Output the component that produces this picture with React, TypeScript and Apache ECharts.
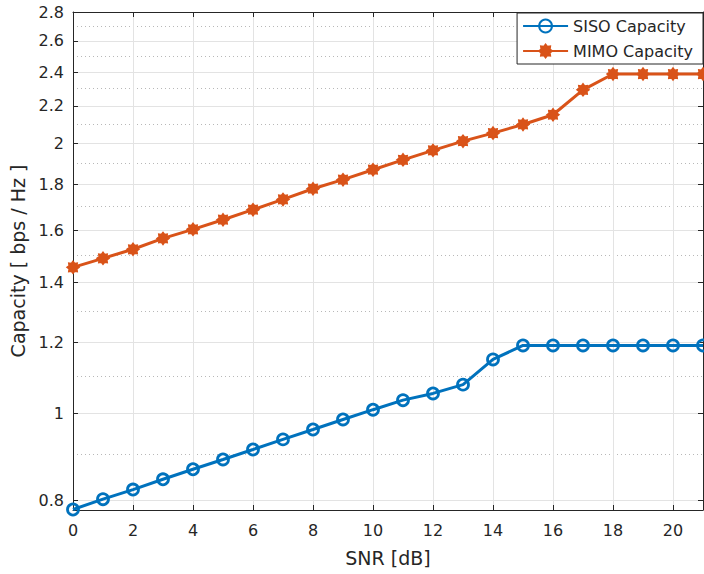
import React, { useEffect, useRef } from "react";
import * as echarts from "echarts";

const snr = [0, 1, 2, 3, 4, 5, 6, 7, 8, 9, 10, 11, 12, 13, 14, 15, 16, 17, 18, 19, 20, 21];
const sisoCapacity = [0.781, 0.802, 0.822, 0.844, 0.866, 0.888, 0.911, 0.935, 0.959, 0.984, 1.009, 1.034, 1.052, 1.076, 1.148, 1.19, 1.19, 1.19, 1.19, 1.19, 1.19, 1.19];
const mimoCapacity = [1.454, 1.488, 1.523, 1.566, 1.603, 1.643, 1.686, 1.731, 1.779, 1.821, 1.868, 1.916, 1.963, 2.01, 2.052, 2.098, 2.151, 2.293, 2.388, 2.388, 2.388, 2.388];
const yMajorTicks = [0.8, 1, 1.2, 1.4, 1.6, 1.8, 2, 2.2, 2.4, 2.6, 2.8];
const yMinorTicks = [0.9, 1.1, 1.3, 1.5, 1.7, 1.9, 2.1, 2.3, 2.5, 2.7];
const xTicks = [0, 2, 4, 6, 8, 10, 12, 14, 16, 18, 20];
const yRange = [0.78, 2.8];
const xRange = [0, 21];

const FONT = "DejaVu Sans";
const AXIS_COLOR = "#262626";
const BLUE = "#0072BD";
const ORANGE = "#D95319";
// 8-point blobby asterisk (outer r 10, inner r 7)
const STAR =
  "path://M20 10 L16.47 12.68 L17.07 17.07 L12.68 16.47 L10 20 L7.32 16.47 L2.93 17.07 L3.53 12.68 L0 10 L3.53 7.32 L2.93 2.93 L7.32 3.53 L10 0 L12.68 3.53 L17.07 2.93 L16.47 7.32 Z";

export default function App() {
  const ref = useRef<HTMLDivElement>(null);
  useEffect(() => {
    if (!ref.current) return;
    const chart = echarts.init(ref.current, null, { renderer: "svg" });
    const ln = (v: number) => Math.log(v);
    const yMin = ln(yRange[0]);
    const yMax = ln(yRange[1]);
    const fmtY = (v: number) => String(Math.round(Math.exp(v) * 10) / 10);
    const boxLine = { show: true, onZero: false, lineStyle: { color: AXIS_COLOR, width: 1 } };
    chart.setOption({
      animation: false,
      backgroundColor: "#ffffff",
      textStyle: { fontFamily: FONT },
      grid: { left: 73, right: 1, top: 12, bottom: 64, containLabel: false },
      legend: {
        orient: "vertical",
        right: 1,
        top: 13,
        itemWidth: 45,
        itemHeight: 16,
        itemGap: 9,
        padding: [5, 10, 5, 5],
        borderColor: AXIS_COLOR,
        borderWidth: 1,
        backgroundColor: "#ffffff",
        textStyle: { fontFamily: FONT, fontSize: 16, color: AXIS_COLOR },
        data: ["SISO Capacity", "MIMO Capacity"],
      },
      xAxis: [
        {
          type: "value",
          position: "bottom",
          min: xRange[0],
          max: xRange[1],
          name: "SNR [dB]",
          nameLocation: "middle",
          nameGap: 38,
          nameTextStyle: { fontFamily: FONT, fontSize: 19, color: AXIS_COLOR },
          axisLine: boxLine,
          axisTick: { show: true, inside: true, length: 5, customValues: xTicks, lineStyle: { color: AXIS_COLOR } },
          axisLabel: { show: true, customValues: xTicks, margin: 12, fontFamily: FONT, fontSize: 16, color: AXIS_COLOR },
          splitLine: { show: true, lineStyle: { color: "#e3e3e3", width: 1 } },
        },
        {
          type: "value",
          position: "top",
          min: xRange[0],
          max: xRange[1],
          axisLine: boxLine,
          axisTick: { show: true, inside: true, length: 5, customValues: xTicks, lineStyle: { color: AXIS_COLOR } },
          axisLabel: { show: false },
          splitLine: { show: false },
        },
      ],
      yAxis: [
        {
          type: "value",
          position: "left",
          min: yMin,
          max: yMax,
          name: "Capacity [ bps / Hz ]",
          nameLocation: "middle",
          nameGap: 44,
          nameRotate: 90,
          nameTextStyle: { fontFamily: FONT, fontSize: 19, color: AXIS_COLOR },
          axisLine: boxLine,
          axisTick: { show: true, inside: true, length: 5, customValues: yMajorTicks.map(ln), lineStyle: { color: AXIS_COLOR } },
          axisLabel: { show: true, customValues: yMajorTicks.map(ln), formatter: fmtY, margin: 9, fontFamily: FONT, fontSize: 16, color: AXIS_COLOR },
          splitLine: { show: true, lineStyle: { color: "#e3e3e3", width: 1 } },
        },
        {
          type: "value",
          position: "left",
          min: yMin,
          max: yMax,
          axisLine: { show: false, onZero: false },
          axisTick: { show: false, customValues: yMinorTicks.map(ln) },
          axisLabel: { show: false, customValues: yMinorTicks.map(ln) },
          splitLine: { show: true, lineStyle: { color: "#b8b8b8", width: 1, type: [1, 3] } },
        },
        {
          type: "value",
          position: "right",
          min: yMin,
          max: yMax,
          axisLine: boxLine,
          axisTick: { show: true, inside: true, length: 5, customValues: yMajorTicks.map(ln), lineStyle: { color: AXIS_COLOR } },
          axisLabel: { show: false },
          splitLine: { show: false },
        },
      ],
      series: [
        {
          name: "SISO Capacity",
          type: "line",
          xAxisIndex: 0,
          yAxisIndex: 0,
          data: snr.map((x, i) => [x, ln(sisoCapacity[i])]),
          symbol: "circle",
          symbolSize: 11,
          showAllSymbol: true,
          clip: false,
          lineStyle: { color: BLUE, width: 3 },
          itemStyle: { color: "rgba(255,255,255,0)", borderColor: BLUE, borderWidth: 2.8 },
          z: 3,
        },
        {
          name: "MIMO Capacity",
          type: "line",
          xAxisIndex: 0,
          yAxisIndex: 0,
          data: snr.map((x, i) => [x, ln(mimoCapacity[i])]),
          symbol: STAR,
          symbolSize: 12,
          showAllSymbol: true,
          clip: false,
          lineStyle: { color: ORANGE, width: 3 },
          itemStyle: { color: ORANGE, borderColor: ORANGE, borderWidth: 1.5 },
          z: 3,
        },
      ],
    });
    return () => chart.dispose();
  }, []);
  return (
    <div
      ref={ref}
      style={{ position: "fixed", left: 0, top: 0, width: 704, height: 574, background: "#fff" }}
    />
  );
}
